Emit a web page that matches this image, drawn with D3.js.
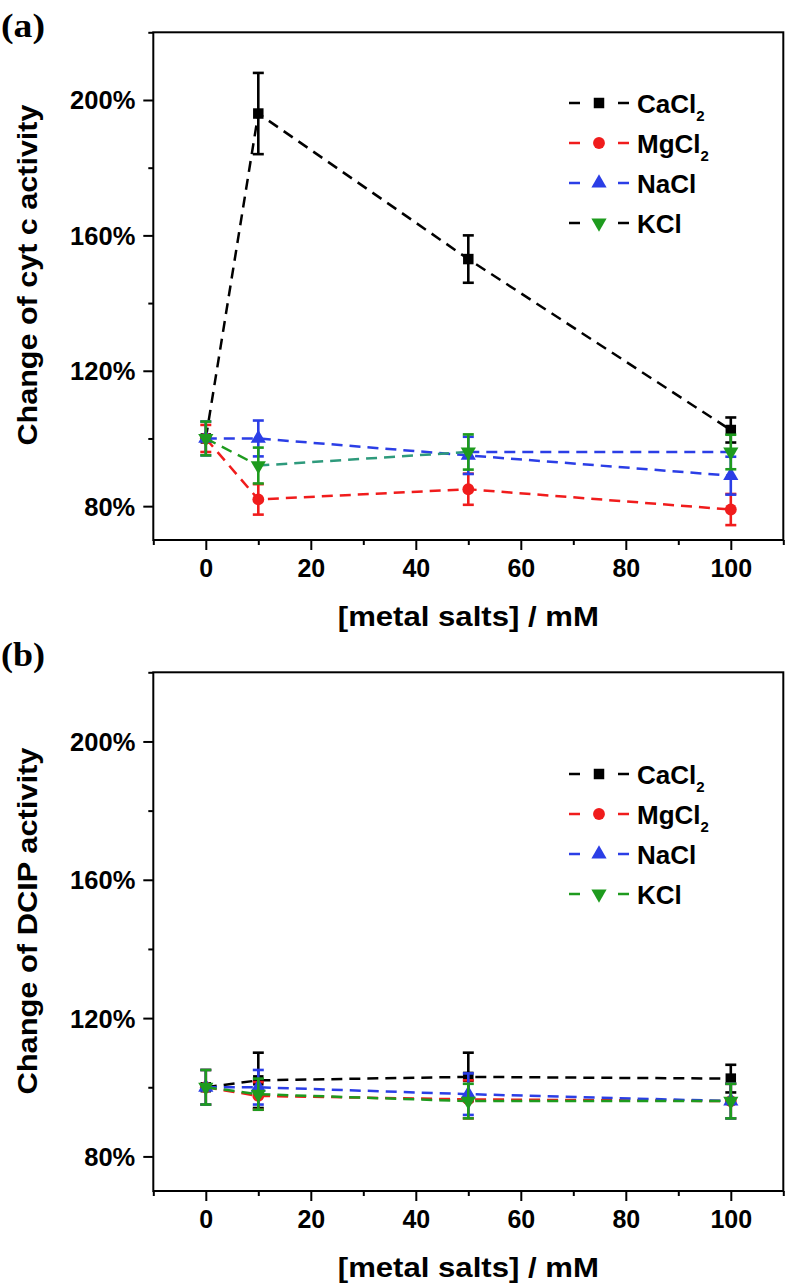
<!DOCTYPE html>
<html><head><meta charset="utf-8">
<script src="https://cdn.jsdelivr.net/npm/d3@7"></script>
<style>body{margin:0;background:#fff}svg{display:block}</style>
</head><body>
<svg id="chart" width="799" height="1288"></svg>
<script>
// ---------- data ----------
const concentrations = [0, 10, 50, 100];
const seriesNames = ["CaCl2", "MgCl2", "NaCl", "KCl"];

// panel (a): change of cyt c activity (%)
const cytC_CaCl2 = [100, 196, 153, 102.5];
const cytC_CaCl2_err = [0, 12, 7, 3.7];
const cytC_MgCl2 = [100, 82, 85, 79];
const cytC_MgCl2_err = [4, 4.5, 4.6, 4.6];
const cytC_NaCl = [100, 100, 95, 89];
const cytC_NaCl_err = [5, 5.3, 5.5, 5.6];
const cytC_KCl = [100, 92, 96, 96];
const cytC_KCl_err = [5, 5.3, 5.2, 5.1];

// panel (b): change of DCIP activity (%)
const dcip_CaCl2 = [100, 102, 103, 102.5];
const dcip_CaCl2_err = [0, 8, 7, 4];
const dcip_MgCl2 = [100, 97.5, 96.5, 96];
const dcip_MgCl2_err = [5, 4, 5.5, 5];
const dcip_NaCl = [100, 100, 98, 96];
const dcip_NaCl_err = [5, 5, 6, 5];
const dcip_KCl = [100, 98, 96, 96];
const dcip_KCl_err = [5, 4.5, 5, 5];

const xMajorTicks = [0, 20, 40, 60, 80, 100];
const xMinorTicks = [-10, 10, 30, 50, 70, 90, 110];
const yMajorTicks = [80, 120, 160, 200];
const yMinorTicks = [100, 140, 180, 220];
const xDomain = [-10, 110];
const yDomain = [70, 220];

// ---------- styles ----------
const BLACK = "#000000", RED = "#f01c1c", BLUE = "#2b3ee6", GREEN = "#1e9b1e", TEAL = "#2e9a7c";
const seriesColors = [BLACK, RED, BLUE, GREEN];
const symbolTypes = ["square", "circle", "up", "down"];
const kclSegmentColorsA = [GREEN, TEAL, BLUE];
const legendDashColorsA = [BLACK, RED, BLUE, BLACK];
const legendDashColorsB = [BLACK, RED, BLUE, GREEN];

const FONT = "'Liberation Sans', Arial, Helvetica, sans-serif";
const svg = d3.select("#chart");

function stretch(sel, factor) {
  sel.each(function () {
    const L = this.getComputedTextLength();
    this.setAttribute("textLength", L * factor);
    this.setAttribute("lengthAdjust", "spacingAndGlyphs");
  });
}

function symbolPath(type) {
  if (type === "square") return d3.symbol(d3.symbolSquare, 110)();
  if (type === "circle") return d3.symbol(d3.symbolCircle, 110)();
  return d3.symbol(d3.symbolTriangle, 100)();
}

const panels = [
  {
    label: "(a)", labelY: 37, top: 32.3, bottom: 540, ytitle: "Change of cyt c activity", ytitleY: 275, ytitleLen: 341,
    legendY0: 103, legendDash: legendDashColorsA,
    series: [
      { v: cytC_CaCl2, e: cytC_CaCl2_err },
      { v: cytC_MgCl2, e: cytC_MgCl2_err },
      { v: cytC_NaCl, e: cytC_NaCl_err },
      { v: cytC_KCl, e: cytC_KCl_err, seg: kclSegmentColorsA }
    ]
  },
  {
    label: "(b)", labelY: 666, top: 672.3, bottom: 1191, ytitle: "Change of DCIP activity", ytitleY: 921, ytitleLen: 347,
    legendY0: 774, legendDash: legendDashColorsB,
    series: [
      { v: dcip_CaCl2, e: dcip_CaCl2_err },
      { v: dcip_MgCl2, e: dcip_MgCl2_err },
      { v: dcip_NaCl, e: dcip_NaCl_err },
      { v: dcip_KCl, e: dcip_KCl_err }
    ]
  }
];

const left = 153.3, right = 783.3;

panels.forEach(p => {
  const x = d3.scaleLinear().domain(xDomain).range([left, right]);
  const y = d3.scaleLinear().domain(yDomain).range([p.bottom, p.top]);
  const g = svg.append("g");

  // panel label
  g.append("text").attr("x", 1).attr("y", p.labelY).text(p.label)
    .attr("font-family", "'Liberation Serif', 'Times New Roman', serif").attr("font-weight", "bold")
    .attr("font-size", 34).attr("textLength", 44).attr("lengthAdjust", "spacingAndGlyphs");

  // axes (ticks)
  const xAxisMajor = d3.axisBottom(x).tickValues(xMajorTicks).tickSize(10).tickFormat(d3.format("d"));
  const xAxisMinor = d3.axisBottom(x).tickValues(xMinorTicks).tickSize(5).tickFormat("");
  const yAxisMajor = d3.axisLeft(y).tickValues(yMajorTicks).tickSize(10).tickFormat(d => d + "%");
  const yAxisMinor = d3.axisLeft(y).tickValues(yMinorTicks).tickSize(5).tickFormat("");

  const gxMin = g.append("g").attr("transform", `translate(0,${p.bottom})`).call(xAxisMinor);
  const gx = g.append("g").attr("transform", `translate(0,${p.bottom})`).call(xAxisMajor);
  const gyMin = g.append("g").attr("transform", `translate(${left},0)`).call(yAxisMinor);
  const gy = g.append("g").attr("transform", `translate(${left},0)`).call(yAxisMajor);
  [gx, gxMin, gy, gyMin].forEach(a => {
    a.select(".domain").remove();
    a.selectAll(".tick line").attr("stroke", "#000").attr("stroke-width", 2);
  });
  gx.selectAll(".tick text").attr("font-family", FONT).attr("font-weight", "bold")
    .attr("font-size", 25).attr("fill", "#000").attr("y", 19).attr("dy", "0.71em").call(stretch, 1.0);
  gy.selectAll(".tick text").attr("font-family", FONT).attr("font-weight", "bold")
    .attr("font-size", 25).attr("fill", "#000").attr("x", -18).attr("dy", "0.36em").call(stretch, 1.02);

  // frame
  g.append("rect").attr("x", left).attr("y", p.top).attr("width", right - left).attr("height", p.bottom - p.top)
    .attr("fill", "none").attr("stroke", "#000").attr("stroke-width", 2);

  // axis titles
  g.append("text").attr("x", (left + right) / 2).attr("y", p.bottom + 86).attr("text-anchor", "middle")
    .attr("font-family", FONT).attr("font-weight", "bold").attr("font-size", 28)
    .attr("textLength", 261).attr("lengthAdjust", "spacingAndGlyphs").text("[metal salts] / mM");
  g.append("text").attr("transform", `translate(37,${p.ytitleY}) rotate(-90)`).attr("text-anchor", "middle")
    .attr("font-family", FONT).attr("font-weight", "bold").attr("font-size", 28)
    .attr("textLength", p.ytitleLen).attr("lengthAdjust", "spacingAndGlyphs").text(p.ytitle);

  // series
  p.series.forEach((s, i) => {
    const col = seriesColors[i];
    const pts = concentrations.map((c, k) => ({ c, v: s.v[k], e: s.e[k] }));
    const line = d3.line().x(d => x(d.c)).y(d => y(d.v));
    if (s.seg) {
      for (let k = 0; k < pts.length - 1; k++) {
        g.append("path").attr("d", line([pts[k], pts[k + 1]])).attr("fill", "none")
          .attr("stroke", s.seg[k]).attr("stroke-width", 2.5).attr("stroke-dasharray", "11,7");
      }
    } else {
      g.append("path").attr("d", line(pts)).attr("fill", "none")
        .attr("stroke", col).attr("stroke-width", 2.5).attr("stroke-dasharray", "11,7");
    }
    const eb = g.append("g").attr("stroke", col).attr("stroke-width", 2.6);
    pts.filter(d => d.e > 0).forEach(d => {
      const cx = x(d.c), y1 = y(d.v + d.e), y2 = y(d.v - d.e);
      eb.append("line").attr("x1", cx).attr("x2", cx).attr("y1", y1).attr("y2", y2);
      eb.append("line").attr("x1", cx - 5.5).attr("x2", cx + 5.5).attr("y1", y1).attr("y2", y1);
      eb.append("line").attr("x1", cx - 5.5).attr("x2", cx + 5.5).attr("y1", y2).attr("y2", y2);
    });
    const t = symbolTypes[i];
    g.append("g").selectAll("path").data(pts).join("path")
      .attr("d", symbolPath(t))
      .attr("transform", d => `translate(${x(d.c)},${y(d.v)})` + (t === "down" ? " rotate(180)" : ""))
      .attr("fill", col);
  });

  // legend
  const lg = g.append("g");
  seriesNames.forEach((name, i) => {
    const cy = p.legendY0 + i * 40;
    lg.append("line").attr("x1", 569).attr("x2", 629).attr("y1", cy).attr("y2", cy)
      .attr("stroke", p.legendDash[i]).attr("stroke-width", 2.5).attr("stroke-dasharray", "11,38");
    const t = symbolTypes[i];
    lg.append("path").attr("d", symbolPath(t))
      .attr("transform", `translate(599,${cy})` + (t === "down" ? " rotate(180)" : ""))
      .attr("fill", seriesColors[i]);
    const m = name.match(/^(.*?)(\d*)$/);
    const tx = lg.append("text").attr("x", 637).attr("y", cy + 9.5)
      .attr("font-family", FONT).attr("font-weight", "bold").attr("font-size", 26);
    tx.append("tspan").text(m[1]);
    if (m[2]) tx.append("tspan").attr("font-size", 15).attr("dy", 8).text(m[2]);
  });
});
</script>
</body></html>
